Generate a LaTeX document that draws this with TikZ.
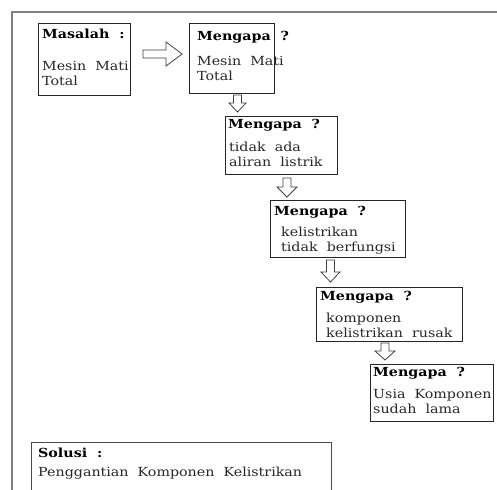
\documentclass[tikz,border=0pt]{standalone}
\usepackage{fontspec}
\setmainfont[FakeStretch=1.14]{DejaVu Serif}
\newcommand{\darrow}[5]{%
  \draw[arr] (#1-4,#2) -- (#1+4,#2) -- (#1+4,#3) -- (#1+#5,#3) -- (#1,#4) -- (#1-#5,#3) -- (#1-4,#3) -- cycle;}
\begin{document}
\begin{tikzpicture}[x=1pt,y=-1pt,
  box/.style={draw=black!85, line width=1.1pt, inner sep=0pt, anchor=north west},
  txt/.style={anchor=base west, inner sep=0pt, text=black!85, font=\fontsize{12.5}{15}\selectfont},
  hd/.style={anchor=base west, inner sep=0pt, text=black, font=\fontsize{12.5}{15}\selectfont\bfseries},
  arr/.style={draw=black!75, line width=0.8pt, fill=white, line join=miter}]
\useasboundingbox (0,0) rectangle (497,489);
% outer frame
\draw[draw=black!50, line width=1.6pt] (12,500) -- (12,12) -- (505,12);
% boxes
\node[box, minimum width=92pt, minimum height=72pt] (b1) at (38,23) {};
\node[box, minimum width=85pt, minimum height=70pt] (b2) at (189,23) {};
\node[box, minimum width=112pt, minimum height=58pt] (b3) at (225,116) {};
\node[box, minimum width=135pt, minimum height=57pt] (b4) at (270,200) {};
\node[box, minimum width=146pt, minimum height=54pt] (b5) at (316,287) {};
\node[box, minimum width=123pt, minimum height=57pt] (b6) at (370,364) {};
\node[box, draw=black!70, minimum width=300pt, minimum height=70pt] (b7) at (31,442) {};
% texts
\node[hd] (t1a) at (42,39) {Masalah\ \ :};
\node[txt] (t1b) at (42,71) {Mesin\ \ Mati};
\node[txt] (t1c) at (42,86) {Total};
\node[hd] (t2a) at (197,41) {Mengapa\ \ ?};
\node[txt] (t2b) at (197,66) {Mesin\ \ Mati};
\node[txt] (t2c) at (197,81) {Total};
\node[hd] (t3a) at (228,129) {Mengapa\ \ ?};
\node[txt] (t3b) at (229,151) {tidak\ \ ada};
\node[txt] (t3c) at (229,167) {aliran\ \ listrik};
\node[hd] (t4a) at (274,215) {Mengapa\ \ ?};
\node[txt] (t4b) at (281,236) {kelistrikan};
\node[txt] (t4c) at (281,251) {tidak\ \ berfungsi};
\node[hd] (t5a) at (320,300) {Mengapa\ \ ?};
\node[txt] (t5b) at (326,322) {komponen};
\node[txt] (t5c) at (326,337) {kelistrikan\ \ rusak};
\node[hd] (t6a) at (373,376) {Mengapa\ \ ?};
\node[txt] (t6b) at (373,398) {Usia\ \ Komponen};
\node[txt] (t6c) at (373,413) {sudah\ \ lama};
\node[hd] (t7a) at (38,457) {Solusi\ \ :};
\node[txt] (t7b) at (38,476) {Penggantian\ \ Komponen\ \ Kelistrikan};
% hollow arrows
\draw[arr] (143,50) -- (166,50) -- (166,42) -- (182,54) -- (166,66) -- (166,58) -- (143,58) -- cycle;
\darrow{237.5}{95}{103}{112}{8.5}
\darrow{287}{178}{187}{197}{10}
\darrow{330.5}{260}{272}{282}{9.5}
\darrow{385}{343}{351}{360}{10}
\end{tikzpicture}
\end{document}
